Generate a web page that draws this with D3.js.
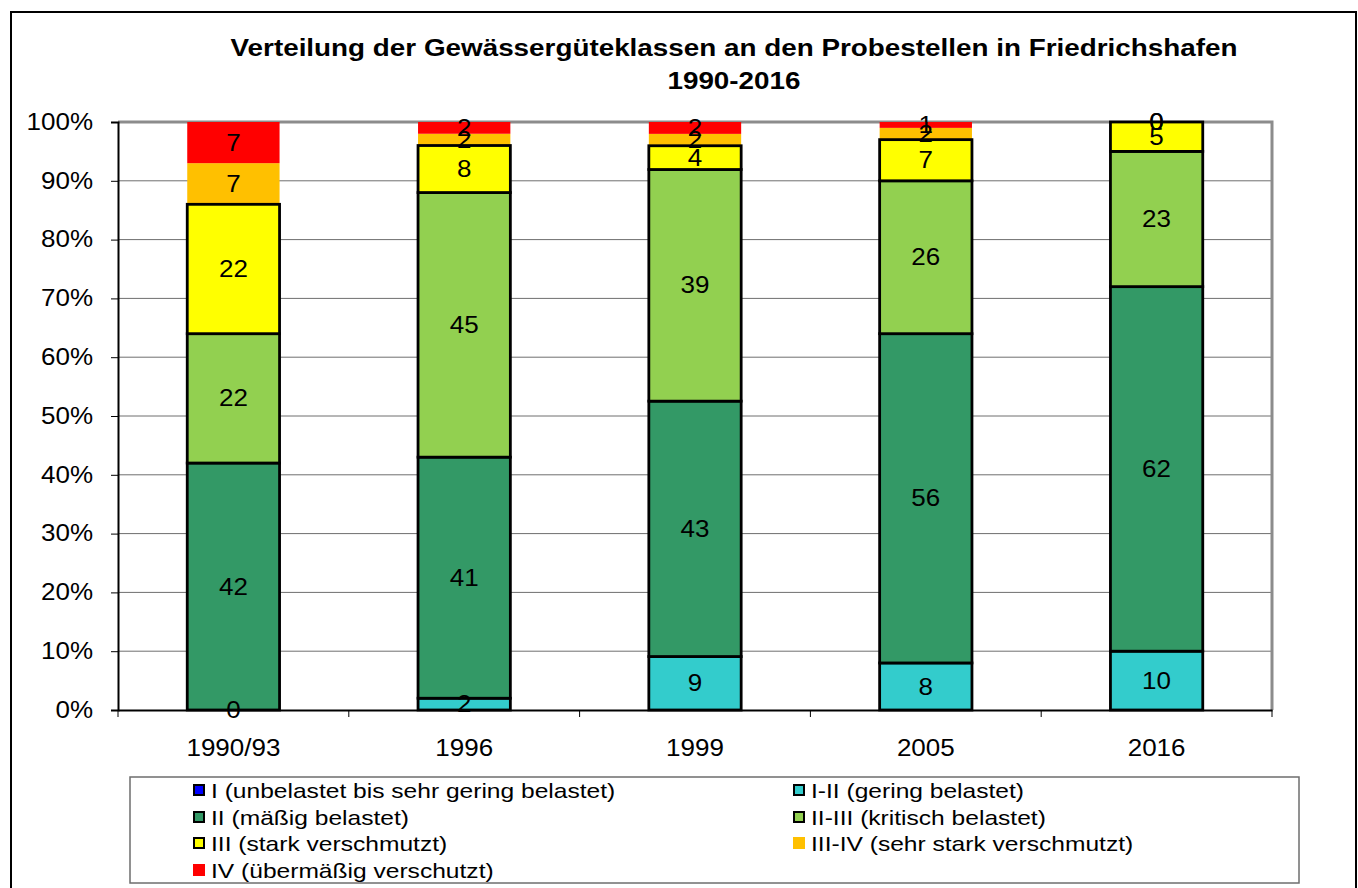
<!DOCTYPE html>
<html>
<head>
<meta charset="utf-8">
<script src="https://cdn.jsdelivr.net/npm/d3@7"></script>
<style>
  html, body { margin: 0; padding: 0; background: #fff; }
  svg { display: block; font-family: "Liberation Sans", Arial, sans-serif; }
</style>
</head>
<body>
<svg id="chart" width="1358" height="888"></svg>
<script>
// Survey years
const years = ["1990/93", "1996", "1999", "2005", "2016"];

// Share of sampling sites per water quality class (percent, rounded)
const classI    = [null, null, null, null, null];
const classI_II = [0, 2, 9, 8, 10];
const classII   = [42, 41, 43, 56, 62];
const classII_III = [22, 45, 39, 26, 23];
const classIII  = [22, 8, 4, 7, 5];
const classIII_IV = [7, 2, 2, 2, 0];
const classIV   = [7, 2, 2, 1, 0];

const seriesNames = [
  "I (unbelastet bis sehr gering belastet)",
  "I-II (gering belastet)",
  "II (mäßig belastet)",
  "II-III (kritisch belastet)",
  "III (stark verschmutzt)",
  "III-IV (sehr stark verschmutzt)",
  "IV (übermäßig verschutzt)"
];
const seriesValues = [classI, classI_II, classII, classII_III, classIII, classIII_IV, classIV];
const seriesColors = ["#0000FF", "#33CCCC", "#339966", "#92D050", "#FFFF00", "#FFC000", "#FF0000"];
const seriesOutlined = [true, true, true, true, true, false, false];

const yTicks = [0, 10, 20, 30, 40, 50, 60, 70, 80, 90, 100];

// widen text horizontally by a factor (glyphs are drawn broad in this chart style)
function widen(sel, factor) {
  sel.each(function () {
    const w = this.getComputedTextLength();
    d3.select(this)
      .attr("textLength", w * factor)
      .attr("lengthAdjust", "spacingAndGlyphs");
  });
}

const svg = d3.select("#chart");

// outer frame
svg.append("rect")
  .attr("x", 11).attr("y", 12).attr("width", 1345).attr("height", 890)
  .attr("fill", "none").attr("stroke", "#000").attr("stroke-width", 2);

// title
const titleLines = ["Verteilung der Gewässergüteklassen an den Probestellen in Friedrichshafen", "1990-2016"];
svg.append("g").selectAll("text")
  .data(titleLines)
  .join("text")
  .attr("x", 734)
  .attr("y", (d, i) => 56 + i * 33)
  .attr("text-anchor", "middle")
  .attr("font-weight", "bold")
  .attr("font-size", 23)
  .text(d => d)
  .call(widen, 1.21);

const plot = { left: 118, right: 1272, top: 122, bottom: 710 };

const x = d3.scaleBand()
  .domain(years)
  .range([plot.left, plot.right])
  .paddingInner(0.6)
  .paddingOuter(0.3);

const y = d3.scaleLinear()
  .domain([0, 100])
  .range([plot.bottom, plot.top]);

// gridlines
svg.append("g")
  .selectAll("line")
  .data(yTicks.filter(t => t > 0 && t < 100))
  .join("line")
  .attr("x1", plot.left).attr("x2", plot.right)
  .attr("y1", d => y(d)).attr("y2", d => y(d))
  .attr("stroke", "#6e6e6e").attr("stroke-width", 1);

// plot border (top and right)
svg.append("path")
  .attr("d", `M${plot.left},${plot.top}H${plot.right}V${plot.bottom}`)
  .attr("fill", "none").attr("stroke", "#8c8c8c").attr("stroke-width", 3);

// y axis
const yAxis = d3.axisLeft(y)
  .tickValues(yTicks)
  .tickFormat(d => d + "%")
  .tickSize(7)
  .tickPadding(18);
const gy = svg.append("g")
  .attr("transform", `translate(${plot.left},0)`)
  .call(yAxis);
gy.select(".domain").attr("stroke", "#000").attr("stroke-width", 2);
gy.selectAll(".tick line").attr("stroke", "#000").attr("stroke-width", 1);
gy.selectAll(".tick text")
  .attr("font-family", "Liberation Sans, Arial, sans-serif")
  .attr("font-size", 23).attr("fill", "#000")
  .call(widen, 1.13);

// x axis: ticks on category boundaries
const gx = svg.append("g")
  .attr("transform", `translate(0,${plot.bottom})`)
  .call(d3.axisBottom(x).tickSize(0).tickPadding(30));
gx.select(".domain").attr("stroke", "#000").attr("stroke-width", 2);
gx.selectAll(".tick text")
  .attr("font-family", "Liberation Sans, Arial, sans-serif")
  .attr("font-size", 23).attr("fill", "#000")
  .call(widen, 1.13);
const step = x.step();
gx.append("g").selectAll("line")
  .data(d3.range(years.length + 1))
  .join("line")
  .attr("x1", i => plot.left + i * step).attr("x2", i => plot.left + i * step)
  .attr("y1", 0).attr("y2", 7)
  .attr("stroke", "#000").attr("stroke-width", 1);

// stacked 100% bars
const segments = [];
years.forEach((yr, j) => {
  const total = d3.sum(seriesValues, s => s[j] == null ? 0 : s[j]);
  let acc = 0;
  seriesValues.forEach((s, k) => {
    const v = s[j];
    if (v == null) return;
    const p0 = acc / total * 100;
    acc += v;
    const p1 = acc / total * 100;
    segments.push({ year: yr, k, v, p0, p1 });
  });
});

const barG = svg.append("g");
// unoutlined segments first, outlined on top so borders stay crisp
barG.selectAll("rect")
  .data(segments.slice().sort((a, b) => (seriesOutlined[a.k] ? 1 : 0) - (seriesOutlined[b.k] ? 1 : 0)))
  .join("rect")
  .attr("x", d => x(d.year))
  .attr("width", x.bandwidth())
  .attr("y", d => y(d.p1))
  .attr("height", d => y(d.p0) - y(d.p1))
  .attr("fill", d => seriesColors[d.k])
  .attr("stroke", d => seriesOutlined[d.k] ? "#000" : "none")
  .attr("stroke-width", 2.8);

// value labels
svg.append("g").selectAll("text")
  .data(segments)
  .join("text")
  .attr("x", d => x(d.year) + x.bandwidth() / 2)
  .attr("y", d => y((d.p0 + d.p1) / 2))
  .attr("dy", "0.35em")
  .attr("text-anchor", "middle")
  .attr("font-size", 23)
  .attr("fill", "#000")
  .text(d => d.v)
  .call(widen, 1.13);

// legend
const legBox = { left: 130, right: 1299, top: 777, bottom: 883 };
svg.append("rect")
  .attr("x", legBox.left).attr("y", legBox.top)
  .attr("width", legBox.right - legBox.left).attr("height", legBox.bottom - legBox.top)
  .attr("fill", "#fff").attr("stroke", "#6e6e6e").attr("stroke-width", 1.5);

const legendOrder = [0, 1, 2, 3, 4, 5, 6];
const colX = [193, 793];
const rowY = [790, 817, 843, 870];
const leg = svg.append("g").selectAll("g")
  .data(legendOrder)
  .join("g")
  .attr("transform", (k, i) => `translate(${colX[i % 2]},${rowY[Math.floor(i / 2)]})`);
leg.append("rect")
  .attr("x", d => seriesOutlined[d] ? 1 : 0)
  .attr("y", d => seriesOutlined[d] ? -5 : -6)
  .attr("width", d => seriesOutlined[d] ? 10 : 12)
  .attr("height", d => seriesOutlined[d] ? 10 : 12)
  .attr("fill", d => seriesColors[d])
  .attr("stroke", d => seriesOutlined[d] ? "#000" : "none")
  .attr("stroke-width", 2);
leg.append("text")
  .attr("x", 18)
  .attr("dy", "0.36em")
  .attr("font-size", 21)
  .attr("fill", "#000")
  .text(d => seriesNames[d])
  .call(widen, 1.17);
</script>
</body>
</html>
